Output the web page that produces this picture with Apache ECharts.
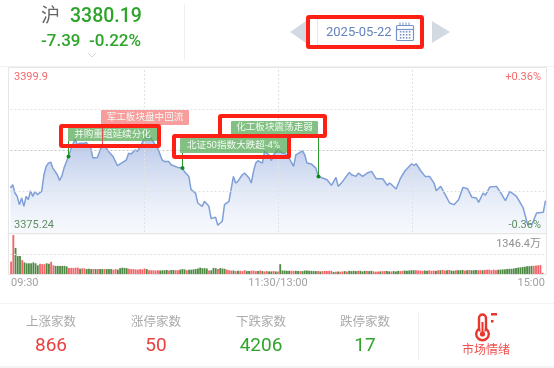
<!DOCTYPE html>
<html>
<head>
<meta charset="utf-8">
<style>html,body{margin:0;padding:0;background:#fff}#c{width:554px;height:368px}</style>
<script src="https://cdn.jsdelivr.net/npm/echarts@6/dist/echarts.min.js"></script>
</head>
<body>
<div id="c"></div>
<script>
var minutes = [0,1,2,3,4,5,6,7,8,9,10,11,12,14,15,16,17,18,19,20,21,22,23,24,26,27,29,30,31,33,34,36,37,39,40,41,43,44,46,48,49,51,52,53,54,56,57,59,60,62,63,65,66,68,69,71,72,75,77,
78,80,81,83,84,86,87,89,90,92,93,95,96,98,100,101,102,104,105,107,108,109,110,111,113,114,116,117,118,120,122,123,125,127,128,131,132,133,135,137,138,140,142,144,146,147,149,152,153,155,156,158,160,
162,164,167,169,170,171,173,175,177,180,181,182,184,186,188,190,191,193,195,197,199,201,203,205,207,209,210,212,213,215,218,220,222,224,227,230,232,234,236,239,240];
var prices = [3381.85,3382.35,3381.1,3380.6,3379.35,3380.35,3379.1,3380.6,3380.1,3381.45,3380.6,3381.35,3380.85,3381.35,3383.85,3385.1,3385.6,3385.75,3384.85,3384.35,3383.85,3383.0,3383.6,3384.85,3386.6,3387.6,3389.25,3388.35,3388.6,3388.6,3388.7,3387.85,3386.35,3386.45,3387.35,3388.35,3387.85,3387.35,3386.6,3385.2,3385.45,3385.85,3386.1,3387.1,3386.95,3387.6,3387.35,3388.6,3389.25,3389.6,3389.35,3388.35,3387.85,3386.1,3385.85,3385.85,3385.35,3384.95,3384.85,
3384.35,3383.6,3381.6,3381.1,3379.6,3379.1,3379.85,3379.1,3377.25,3377.45,3376.25,3376.85,3379.35,3379.85,3383.6,3382.6,3382.85,3383.85,3384.1,3383.35,3382.6,3384.35,3385.6,3385.95,3385.6,3387.35,3386.85,3385.95,3386.85,3387.6,3387.1,3387.1,3386.35,3385.1,3386.85,3387.45,3386.85,3385.6,3385.45,3384.85,3383.6,3383.35,3383.1,3382.25,3383.45,3382.1,3382.85,3384.2,3383.85,3383.6,3384.1,3383.6,3384.1,
3384.35,3383.25,3383.25,3382.25,3382.6,3382.35,3381.7,3383.35,3384.45,3385.5,3385.25,3385.5,3384.45,3383.6,3383.6,3382.6,3381.45,3382.1,3380.85,3379.6,3379.35,3380.1,3381.95,3381.75,3380.45,3380.35,3379.7,3381.1,3380.75,3382.0,3382.1,3381.1,3379.95,3381.35,3380.6,3378.85,3376.35,3376.45,3378.1,3378.2,3379.95];
// volume in 万; positive = up (red), negative = down (green)
var volumes = [430,1346,-900,-620,-620,480,-400,-370,-370,-370,
-400,-370,-300,350,340,340,-370,-350,420,300,
-280,-280,-280,-280,-280,-260,210,210,210,220,
220,-180,200,190,-170,-180,-170,170,-170,170,
-170,-170,170,-170,-170,-170,150,170,-150,-200,
-220,-210,-200,180,170,170,160,150,170,160,
190,-170,130,130,130,120,130,-120,-130,-130,
-140,120,-140,-140,130,130,-150,-170,-160,130,
-150,-150,-160,-170,-190,-220,-200,-200,-190,120,
-130,-210,-200,170,-200,-190,-180,150,130,120,
-120,100,-110,110,100,130,-100,-100,110,120,
100,-100,120,-100,90,100,-90,-90,100,-90,
90,-340,-120,-120,-110,-110,110,110,-110,-100,
100,-100,-120,-120,-110,-110,-100,-100,100,-90,
100,110,100,110,110,-70,80,-90,80,90,
-100,90,-110,-100,-110,-100,110,-110,-90,-110,
100,-100,-110,90,80,90,-90,100,100,-100,
-90,90,-100,-90,-110,100,110,-120,-110,-120,
-130,-130,130,120,120,110,-120,-110,130,110,
120,-110,130,-130,140,120,-130,140,-120,-110,
130,-130,-130,-140,120,-130,140,-130,-130,-140,
130,130,-130,140,150,150,130,150,130,-150,
-150,-160,-160,-170,-180,-180,-190,-210,-220,-230,
-240,-250,-270,-270,-280,280,290,300,310,40,0];
var priceMin = 3375.24, priceMax = 3399.9, priceMid = 3387.57;
var priceGuides = [3381.405, 3393.735];
var minuteGuides = [60, 120, 180];
var volumeMax = 1346.4;
var timeTicks = {0:'09:30',120:'11:30/13:00',240:'15:00'};

var eventNames = ['并购重组延续分化','军工板块盘中回流','北证50指数大跌超-4%','化工板块震荡走弱'];
var eventMinutes = [26,41,77,138];
var eventPrices = [3386.6,3388.35,3384.85,3383.6];
var eventKinds = ['down','up','down','down'];

var indexName='沪', indexValue='3380.19', indexChange='-7.39', indexPct='-0.22%', dateText='2025-05-22';
var statNames=['上涨家数','涨停家数','下跌家数','跌停家数'];
var statValues=['866','50','4206','17'];
var sentiment='市场情绪';

var FONT = 'Roboto, "Noto Sans CJK SC", sans-serif';
var chart = echarts.init(document.getElementById('c'), null, {renderer:'canvas'});
var G=[];
function T(text,x,y,size,fill,align,weight,z){G.push({type:'text',z:z||20,silent:true,style:{text:text,x:x,y:y,fill:fill,fontSize:size,fontFamily:FONT,fontWeight:weight||'normal',textAlign:align||'left',textVerticalAlign:'middle'}});}
function L(x1,y1,x2,y2,c,w,d){G.push({type:'line',z:1,silent:true,shape:{x1:x1,y1:y1,x2:x2,y2:y2},style:{stroke:c,lineWidth:w||1,lineDash:d||null}});}
function frame(x,y,w,h){G.push({type:'rect',z:50,silent:true,shape:{x:x,y:y,width:w,height:h,r:1},style:{fill:'none',stroke:'#fe2015',lineWidth:4}});}
function R(x,y,w,h,f,r,z){G.push({type:'rect',z:z||21,silent:true,shape:{x:x,y:y,width:w,height:h,r:r||0},style:{fill:f}});}

var RED='#e8413f',GRN='#2ea42a';
// header
T(indexName,41,17,19,'#666');
T(indexValue,70,17,19.5,GRN,'left','500');
T(indexChange,41,42,17,GRN,'left','500');
T(indexPct,89,42,17,GRN,'left','500');
G.push({type:'polyline',z:20,silent:true,shape:{points:[[88,53],[92,57],[96,53]]},style:{stroke:'#d5d5d5',fill:'none',lineWidth:1}});
L(184.5,4,184.5,60,'#eeeeee');
L(0,66.5,554,66.5,'#f2f2f2');
G.push({type:'polygon',z:20,silent:true,shape:{points:[[306,21],[306,43],[290,32]]},style:{fill:'#d3d9e3'}});
G.push({type:'polygon',z:20,silent:true,shape:{points:[[432,21],[432,43],[450,32]]},style:{fill:'#d3d9e3'}});
L(317.5,17,317.5,47,'#e6e6e6');
T(dateText,326,32.5,13,'#6482bd');
G.push({type:'rect',z:20,silent:true,shape:{x:396.5,y:25.5,width:17,height:15,r:1},style:{fill:'none',stroke:'#7893c8',lineWidth:1.2}});
L(396.5,29.5,413.5,29.5,'#7893c8',1.2);
[400,403,406,409].forEach(function(x){
  L(x,22.5,x,26,'#7893c8',1);
  [32,35,38].forEach(function(y){R(x-0.2,y-1,1.6,1.6,'#7893c8');});
});
// chart frame
L(8.5,67.5,546.5,67.5,'#e6e6e6');
L(8.5,67.5,8.5,274.5,'#e6e6e6');
L(546.5,67.5,546.5,274.5,'#e6e6e6');
L(8.5,233.5,546.5,233.5,'#e6e6e6',1.5);
L(8.5,274.5,546.5,274.5,'#e6e6e6');
T(String(priceMax),14,77,11,'#f4696a');
T(String(priceMin),14,225,11,'#5f8f5f');
T('+0.36%',541,77,11,'#f4696a','right');
T('-0.36%',541,225,11,'#5f8f5f','right');
T(volumeMax+'万',541,244,11,'#909090','right');
// red highlight frames
frame(61,126,98,20);
frame(174,136,115,21);
frame(220,116,105,20);
frame(308,17,114,30);
// footer
L(0,303.5,554,303.5,'#f4f4f4');
L(418.5,313,418.5,360,'#f0f0f0');
R(0,366,554,2,'#f3f3f3');
var cx=[51,156,261,365], cc=[RED,RED,GRN,GRN];
statNames.forEach(function(n,i){
  G.push({type:'text',z:20,silent:true,style:{text:n,x:cx[i],y:323,fill:'#aaaaaa',fontSize:12.5,fontFamily:FONT,textAlign:'center',textVerticalAlign:'middle'}});
  G.push({type:'text',z:20,silent:true,style:{text:statValues[i],x:cx[i],y:346,fill:cc[i],fontSize:19,fontFamily:FONT,textAlign:'center',textVerticalAlign:'middle'}});
});
G.push({type:'text',z:20,silent:true,style:{text:sentiment,x:486,y:351,fill:'#f0504c',fontSize:12,fontFamily:FONT,textAlign:'center',textVerticalAlign:'middle'}});
var tc='#e8352d';
G.push({type:'rect',z:20,silent:true,shape:{x:479,y:314.5,width:7,height:17,r:3.5},style:{fill:'#fff',stroke:tc,lineWidth:2.4}});
G.push({type:'circle',z:19,silent:true,shape:{cx:482.5,cy:334,r:6.3},style:{fill:'#fff',stroke:tc,lineWidth:2.4}});
R(480.5,329,4,4,'#fff',0,21);
G.push({type:'circle',z:22,silent:true,shape:{cx:482.5,cy:334,r:2.6},style:{fill:tc}});
R(481.5,322,2,11,tc,0,22);
R(491,313,6,2.5,tc);
R(491,320,2.5,2.5,tc);

// annotation label boxes (pixel styling only; anchors come from the axes)
var boxStyle=[
 {x:68,y:127.5,w:89,h:13.5},
 {x:101,y:110,w:88,h:15},
 {x:180,y:138,w:107,h:15},
 {x:231,y:121,w:87,h:13.5}
];
var cats=volumes.map(function(_,i){return i;});
var lineData=minutes.map(function(m,i){return [m,prices[i]];});
var eventData=eventNames.map(function(_,i){return [eventMinutes[i],eventPrices[i],i];});

function dash(c,w,t){return {color:c,width:w,type:t};}
var guideLines=[
  {yAxis:priceMid,lineStyle:dash('#c4c4c4',1,[2,2])}
].concat(priceGuides.map(function(v){return {yAxis:v,lineStyle:dash('#e2e2e2',1,[2,2])};}))
 .concat(minuteGuides.map(function(v){return {xAxis:v,lineStyle:dash('#e2e2e2',1,[2,2])};}));

chart.setOption({
  animation:false,
  backgroundColor:'#fff',
  grid:[
    {left:10.5,width:535,top:68,height:164,containLabel:false},
    {left:10,width:536,top:235,height:39,containLabel:false}
  ],
  xAxis:[
    {type:'value',gridIndex:0,min:0,max:240,show:false},
    {type:'category',gridIndex:1,data:cats,boundaryGap:true,
     axisLine:{show:false},axisTick:{show:false},
     axisLabel:{show:true,interval:function(i){return timeTicks[i]!==undefined;},
       formatter:function(v){return timeTicks[v]||'';},
       color:'#a0a0a0',fontSize:11,fontFamily:FONT,margin:4,
       alignMinLabel:'left',alignMaxLabel:'right',hideOverlap:false}}
  ],
  yAxis:[
    {type:'value',gridIndex:0,min:priceMin,max:priceMax,show:false,splitLine:{show:false}},
    {type:'value',gridIndex:1,min:0,max:volumeMax,show:false,splitLine:{show:false}}
  ],
  series:[
    {type:'line',xAxisIndex:0,yAxisIndex:0,data:lineData,showSymbol:false,smooth:false,clip:false,z:3,
     lineStyle:{color:'#7f9fd8',width:1.5},
     areaStyle:{origin:'start',color:new echarts.graphic.LinearGradient(0,0,0,1,[
       {offset:0,color:'rgba(108,140,208,0.72)'},{offset:1,color:'rgba(205,218,242,0.25)'}])},
     markLine:{silent:true,symbol:'none',label:{show:false},animation:false,data:guideLines}},
    {type:'custom',xAxisIndex:0,yAxisIndex:0,data:eventData,z:5,clip:false,silent:true,
     renderItem:function(params,api){
       var i=api.value(2),p=api.coord([api.value(0),api.value(1)]),b=boxStyle[i];
       var up=eventKinds[i]==='up';
       var stem=up?'#d9534f':'#2f9a2f';
       var px=Math.round(p[0])+0.5;
       var kids=[
        {type:'rect',shape:{x:b.x,y:b.y,width:b.w,height:b.h,r:1},
         style:{fill:up?'rgba(246,130,130,0.78)':'rgba(88,170,88,0.74)'}},
        {type:'line',shape:{x1:px,y1:b.y+b.h,x2:px,y2:p[1]},style:{stroke:stem,lineWidth:1}},
        {type:'text',style:{text:eventNames[i],x:b.x+b.w/2,y:b.y+b.h/2,fill:'#f2f9f2',fontSize:9.6,fontFamily:FONT,align:'center',verticalAlign:'middle',textAlign:'center',textVerticalAlign:'middle'}}
       ];
       if(!up)kids.push({type:'circle',shape:{cx:px,cy:p[1],r:2},style:{fill:'#0f8a1f'}});
       return {type:'group',children:kids};
     }},
    {type:'bar',xAxisIndex:1,yAxisIndex:1,barWidth:'82%',
     data:volumes.map(function(v){return {value:Math.abs(v),itemStyle:{color:v>=0?'#f4646a':'#4f8a45'}};}),
     markLine:{silent:true,symbol:'none',label:{show:false},animation:false,
       data:[{yAxis:volumeMax/2,lineStyle:dash('#e2e2e2',1,[2,2])}]}}
  ],
  graphic:G
});
</script>
</body>
</html>
